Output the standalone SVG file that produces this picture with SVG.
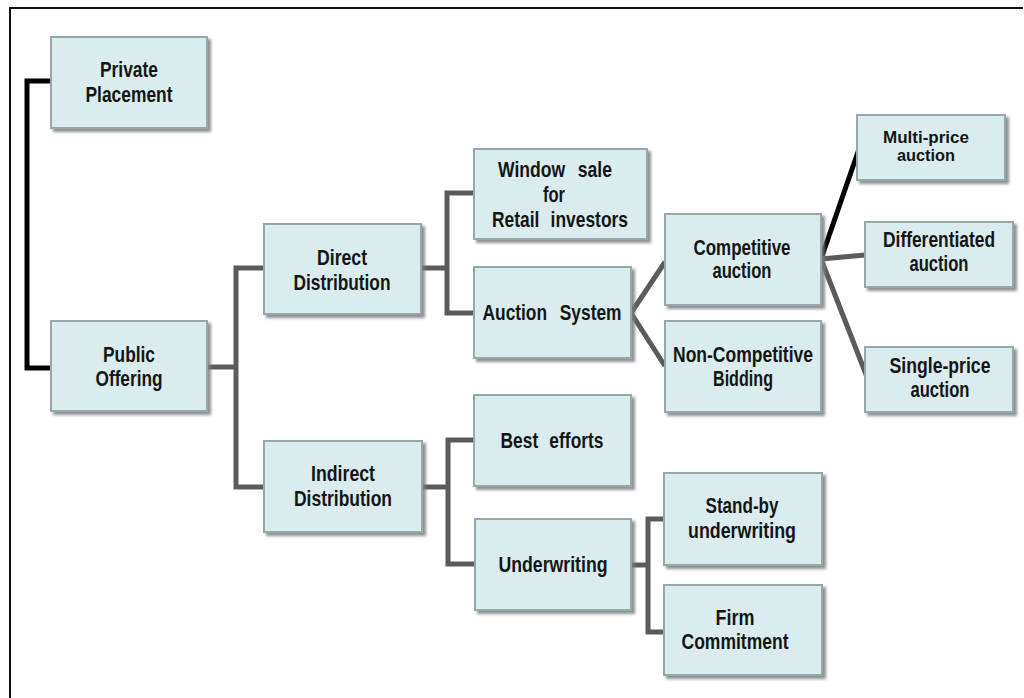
<svg xmlns="http://www.w3.org/2000/svg" width="1024" height="698" viewBox="0 0 1024 698">
<defs>
<filter id="sh" x="-10%" y="-10%" width="125%" height="130%">
<feDropShadow dx="3" dy="3" stdDeviation="1.6" flood-color="#7a7a7a" flood-opacity="0.85"/>
</filter>
<style>
.box{fill:#daecee;stroke:#95a8ab;stroke-width:2;filter:url(#sh)}
.t{font-family:"Liberation Sans Narrow","Liberation Sans",Arial,sans-serif;font-size:22px;font-weight:bold;fill:#151515;text-anchor:middle}
.s{font-size:16px}
.g{fill:none;stroke:#5b5b5b;stroke-width:5;stroke-linejoin:miter}
.k{fill:none;stroke:#000;stroke-width:5;stroke-linejoin:miter}
.frame{fill:none;stroke:#111;stroke-width:2}
</style>
</defs>
<rect width="1024" height="698" fill="#fff"/>
<path class="frame" d="M10,698 V8 H1023"/>
<g id="connectors">
<path class="k" d="M51,81 H27 V368 H51"/>
<path class="g" d="M207,367 H236"/>
<path class="g" d="M264,268 H236 V487 H264"/>
<path class="g" d="M421,268 H447"/>
<path class="g" d="M474,193 H447 V313 H474"/>
<path class="g" d="M422,487 H448"/>
<path class="g" d="M474,440 H448 V564 H475"/>
<path class="g" d="M665,262 L631,313 L665,366"/>
<path class="g" d="M631,565 H648"/>
<path class="g" d="M664,519 H648 V632 H664"/>
<path class="k" d="M859,149 L821,259"/>
<path class="g" d="M821,259 L865,255"/>
<path class="g" d="M821,259 L867,377"/>
</g>
<g id="private-placement">
<rect class="box" x="51" y="37" width="156" height="91"/>
<text class="t" x="129" y="77" textLength="58" lengthAdjust="spacingAndGlyphs">Private</text>
<text class="t" x="129" y="102" textLength="87" lengthAdjust="spacingAndGlyphs">Placement</text>
</g>
<g id="public-offering">
<rect class="box" x="51" y="321" width="156" height="90"/>
<text class="t" x="129" y="362" textLength="52" lengthAdjust="spacingAndGlyphs">Public</text>
<text class="t" x="129" y="386" textLength="67" lengthAdjust="spacingAndGlyphs">Offering</text>
</g>
<g id="direct-distribution">
<rect class="box" x="264" y="224" width="157" height="90"/>
<text class="t" x="342" y="265" textLength="50" lengthAdjust="spacingAndGlyphs">Direct</text>
<text class="t" x="342" y="290" textLength="97" lengthAdjust="spacingAndGlyphs">Distribution</text>
</g>
<g id="indirect-distribution">
<rect class="box" x="264" y="441" width="158" height="91"/>
<text class="t" x="343" y="481" textLength="64" lengthAdjust="spacingAndGlyphs">Indirect</text>
<text class="t" x="343" y="506" textLength="98" lengthAdjust="spacingAndGlyphs">Distribution</text>
</g>
<g id="window-sale">
<rect class="box" x="474" y="149" width="173" height="90"/>
<text class="t" x="555" y="177" textLength="114" lengthAdjust="spacingAndGlyphs" word-spacing="10">Window sale</text>
<text class="t" x="554" y="202" textLength="22" lengthAdjust="spacingAndGlyphs">for</text>
<text class="t" x="560" y="227" textLength="136" lengthAdjust="spacingAndGlyphs" word-spacing="8">Retail investors</text>
</g>
<g id="auction-system">
<rect class="box" x="474" y="267" width="157" height="91"/>
<text class="t" x="552" y="320" textLength="139" lengthAdjust="spacingAndGlyphs" word-spacing="10">Auction System</text>
</g>
<g id="best-efforts">
<rect class="box" x="474" y="395" width="157" height="91"/>
<text class="t" x="552" y="448" textLength="103" lengthAdjust="spacingAndGlyphs" word-spacing="8">Best efforts</text>
</g>
<g id="underwriting">
<rect class="box" x="475" y="519" width="156" height="91"/>
<text class="t" x="553" y="572" textLength="109" lengthAdjust="spacingAndGlyphs">Underwriting</text>
</g>
<g id="competitive-auction">
<rect class="box" x="665" y="214" width="156" height="91"/>
<text class="t" x="742" y="255" textLength="97" lengthAdjust="spacingAndGlyphs">Competitive</text>
<text class="t" x="742" y="278" textLength="59" lengthAdjust="spacingAndGlyphs">auction</text>
</g>
<g id="non-competitive-bidding">
<rect class="box" x="665" y="321" width="156" height="91"/>
<text class="t" x="743" y="362" textLength="140" lengthAdjust="spacingAndGlyphs">Non-Competitive</text>
<text class="t" x="743" y="386" textLength="60" lengthAdjust="spacingAndGlyphs">Bidding</text>
</g>
<g id="stand-by-underwriting">
<rect class="box" x="664" y="473" width="158" height="92"/>
<text class="t" x="742" y="513" textLength="73" lengthAdjust="spacingAndGlyphs">Stand-by</text>
<text class="t" x="742" y="538" textLength="108" lengthAdjust="spacingAndGlyphs">underwriting</text>
</g>
<g id="firm-commitment">
<rect class="box" x="664" y="585" width="158" height="90"/>
<text class="t" x="735" y="625" textLength="39" lengthAdjust="spacingAndGlyphs">Firm</text>
<text class="t" x="735" y="649" textLength="107" lengthAdjust="spacingAndGlyphs">Commitment</text>
</g>
<g id="multi-price-auction">
<rect class="box" x="857" y="115" width="148" height="65"/>
<text class="t s" x="926" y="143" textLength="86" lengthAdjust="spacingAndGlyphs">Multi-price</text>
<text class="t s" x="926" y="161" textLength="58" lengthAdjust="spacingAndGlyphs">auction</text>
</g>
<g id="differentiated-auction">
<rect class="box" x="865" y="222" width="148" height="65"/>
<text class="t" x="939" y="247" textLength="112" lengthAdjust="spacingAndGlyphs">Differentiated</text>
<text class="t" x="939" y="271" textLength="59" lengthAdjust="spacingAndGlyphs">auction</text>
</g>
<g id="single-price-auction">
<rect class="box" x="865" y="347" width="148" height="65"/>
<text class="t" x="940" y="373" textLength="101" lengthAdjust="spacingAndGlyphs">Single-price</text>
<text class="t" x="940" y="397" textLength="59" lengthAdjust="spacingAndGlyphs">auction</text>
</g>
</svg>
